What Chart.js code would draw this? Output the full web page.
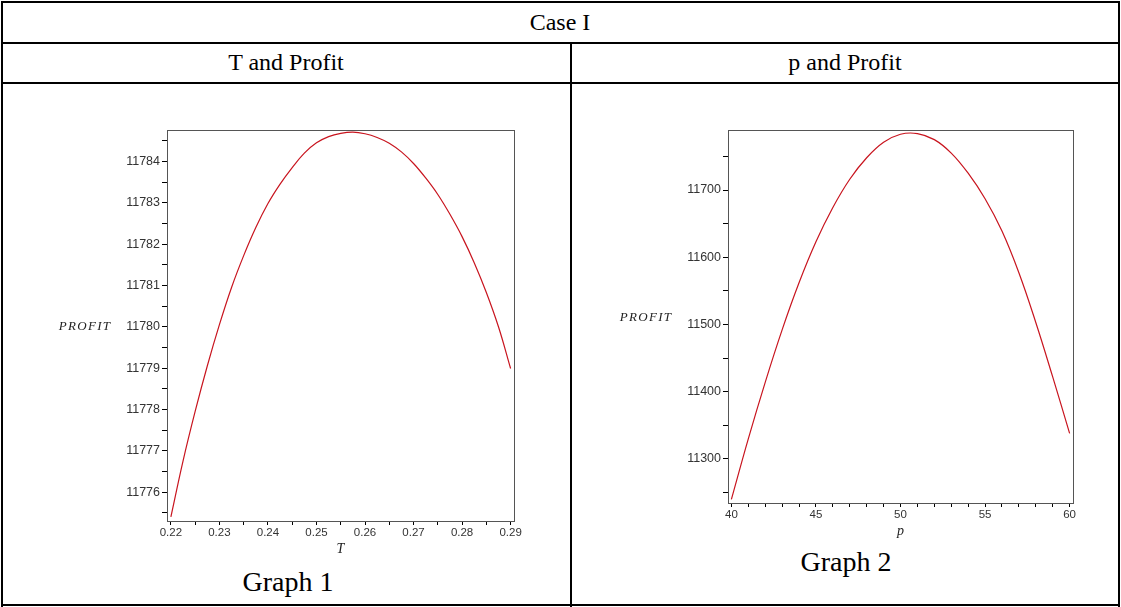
<!DOCTYPE html>
<html>
<head>
<meta charset="utf-8">
<script src="https://cdn.jsdelivr.net/npm/chart.js@4.4.1/dist/chart.umd.min.js"></script>
<style>
  body { margin: 0; background: #fff; }
  #page {
    position: relative;
    width: 1121px;
    height: 607px;
    overflow: hidden;
    background: #fff;
    font-family: "Liberation Serif", "Times New Roman", serif;
    color: #000;
  }
  .rule { position: absolute; background: #000; }
  .txt {
    position: absolute;
    transform: translate(-50%, -50%);
    white-space: nowrap;
    font-size: 24px;
    line-height: 1;
  }
  .caption { font-size: 28px; }
  .plot { position: absolute; }
</style>
</head>
<body>
<div id="page">
  <!-- table lines -->
  <div class="rule" style="left:1px;top:1px;width:1119px;height:2px"></div>
  <div class="rule" style="left:1px;top:1px;width:2px;height:606px"></div>
  <div class="rule" style="left:1118px;top:1px;width:2px;height:606px"></div>
  <div class="rule" style="left:1px;top:604px;width:1119px;height:2px"></div>
  <div class="rule" style="left:1px;top:42px;width:1119px;height:2px"></div>
  <div class="rule" style="left:1px;top:82px;width:1119px;height:2px"></div>
  <div class="rule" style="left:570px;top:42px;width:2px;height:565px"></div>

  <div class="txt" style="left:560px;top:22px">Case I</div>
  <div class="txt" style="left:286px;top:62px">T and Profit</div>
  <div class="txt" style="left:845px;top:62px">p and Profit</div>
  <div class="txt caption" style="left:288px;top:582px">Graph 1</div>
  <div class="txt caption" style="left:846px;top:562px">Graph 2</div>

  <div class="plot" style="left:30px;top:120px;width:520px;height:440px">
    <canvas id="chartT" width="520" height="440"></canvas>
  </div>
  <div class="plot" style="left:590px;top:120px;width:520px;height:422px">
    <canvas id="chartP" width="520" height="422"></canvas>
  </div>
</div>

<script>
// Graph 1: T vs PROFIT
const tValues = [0.22, 0.2225, 0.225, 0.2275, 0.23, 0.2325, 0.235, 0.2375, 0.24,
  0.2425, 0.245, 0.2475, 0.25, 0.2525, 0.255, 0.2575, 0.26, 0.2625, 0.265, 0.2675,
  0.27, 0.2725, 0.275, 0.2775, 0.28, 0.2825, 0.285, 0.2875, 0.29];
const profitByT = [11775.4, 11776.75, 11777.95, 11779.05, 11780.05, 11780.95,
  11781.72, 11782.4, 11782.98, 11783.45, 11783.85, 11784.2, 11784.45, 11784.6,
  11784.68, 11784.71, 11784.67, 11784.58, 11784.44, 11784.23, 11783.95, 11783.6,
  11783.2, 11782.72, 11782.18, 11781.55, 11780.83, 11780.0, 11778.99];

// Graph 2: p vs PROFIT
const pValues = [40, 41, 42, 43, 44, 45, 46, 47, 48, 49, 50, 51, 52, 53, 54, 55,
  56, 57, 58, 59, 60];
const profitByP = [11240, 11330, 11414, 11492, 11562, 11623, 11674, 11716, 11748,
  11771, 11783, 11784, 11775, 11755, 11725, 11687, 11639, 11577, 11503, 11422, 11338];

const tTickLabels = ["0.22", "0.23", "0.24", "0.25", "0.26", "0.27", "0.28", "0.29"];
const pTickLabels = ["40", "45", "50", "55", "60"];

const LINE_RED = "#c8141e";
const TICK_FAMILY = "'Liberation Sans', Arial, sans-serif";

// box around plot area (Maple style)
const framePlugin = {
  id: "frame",
  afterDraw(chart) {
    const { ctx, chartArea: a } = chart;
    ctx.save();
    ctx.strokeStyle = "#555";
    ctx.lineWidth = 1;
    ctx.strokeRect(a.left + 0.5, a.top + 0.5, a.right - a.left, a.bottom - a.top);
    ctx.restore();
  },
};

// horizontal y axis name, left of the tick labels
const yNamePlugin = {
  id: "yName",
  afterDraw(chart, args, opts) {
    const { ctx, chartArea: a } = chart;
    ctx.save();
    ctx.font = "italic 13px 'Liberation Serif', serif";
    ctx.letterSpacing = "1.3px";
    ctx.fillStyle = "#222";
    ctx.textAlign = "center";
    ctx.textBaseline = "middle";
    ctx.fillText(opts.text, opts.x, (a.top + a.bottom) / 2 + 1);
    ctx.restore();
  },
};

function near(v, list, digits) {
  return list.find((l) => Math.abs(parseFloat(l) - v) < Math.pow(10, -digits) / 2);
}

function makeChart(id, xs, ys, cfg) {
  return new Chart(document.getElementById(id).getContext("2d"), {
    type: "line",
    data: {
      datasets: [
        {
          data: xs.map((x, i) => ({ x, y: ys[i] })),
          borderColor: LINE_RED,
          borderWidth: 1.2,
          pointRadius: 0,
          tension: 0.4,
          fill: false,
        },
      ],
    },
    options: {
      responsive: false,
      animation: false,
      events: [],
      layout: { padding: { top: 10, right: cfg.padRight, left: 0, bottom: 0 } },
      plugins: {
        legend: { display: false },
        tooltip: { enabled: false },
        yName: { text: "PROFIT", x: cfg.nameX },
      },
      scales: {
        x: {
          type: "linear",
          min: cfg.xMin,
          max: cfg.xMax,
          afterFit: (s) => { s.height = 39; },
          border: { display: true, color: "#000", width: 1 },
          grid: { drawOnChartArea: false, tickLength: 4, color: "#000" },
          ticks: {
            stepSize: cfg.xStep,
            includeBounds: false,
            autoSkip: false,
            maxRotation: 0,
            padding: 1,
            color: "#333",
            font: { family: TICK_FAMILY, size: 11.5 },
            callback: (v) => near(v, cfg.xLabels, cfg.xDigits) || "",
          },
          title: {
            display: true,
            text: cfg.xName,
            color: "#222",
            font: { family: "'Liberation Serif', serif", size: 14, style: "italic" },
            padding: { top: 0, bottom: 2 },
          },
        },
        y: {
          type: "linear",
          min: cfg.yMin,
          max: cfg.yMax,
          afterFit: (s) => { s.width = cfg.yWidth; },
          border: { display: true, color: "#000", width: 1 },
          grid: { drawOnChartArea: false, tickLength: 5, color: "#000" },
          ticks: {
            stepSize: cfg.yStep,
            includeBounds: false,
            autoSkip: false,
            padding: 2,
            color: "#333",
            font: { family: TICK_FAMILY, size: 12.5 },
            callback: (v) => (Math.abs(v / cfg.yMajor - Math.round(v / cfg.yMajor)) < 1e-6 ? String(Math.round(v)) : ""),
          },
        },
      },
    },
    plugins: [framePlugin, yNamePlugin],
  });
}

makeChart("chartT", tValues, profitByT, {
  xMin: 0.2192, xMax: 0.2907, xStep: 0.005, xLabels: tTickLabels, xDigits: 3, xName: "T",
  yMin: 11775.3, yMax: 11784.76, yStep: 0.5, yMajor: 1,
  yWidth: 137, padRight: 36, nameX: 55,
});

makeChart("chartP", pValues, profitByP, {
  xMin: 39.8, xMax: 60.2, xStep: 1, xLabels: pTickLabels, xDigits: 0, xName: "p",
  yMin: 11234.5, yMax: 11789.3, yStep: 50, yMajor: 100,
  yWidth: 138, padRight: 37, nameX: 56,
});
</script>
</body>
</html>
